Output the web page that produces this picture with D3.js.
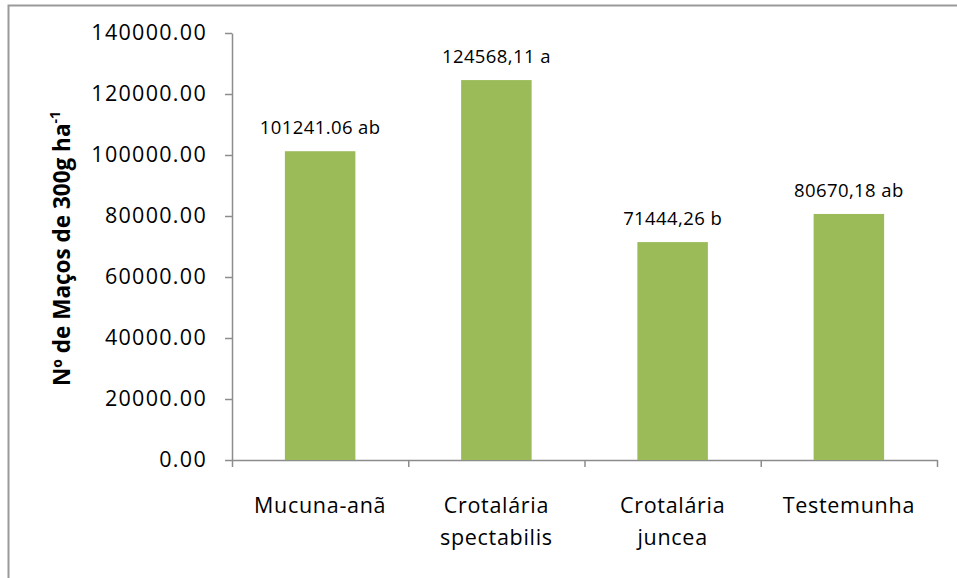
<!DOCTYPE html>
<html>
<head>
<meta charset="utf-8">
<script src="https://cdn.jsdelivr.net/npm/d3@7"></script>
<style>
  body { margin: 0; background: #fff; }
  svg text { font-family: "Open Sans", "Liberation Sans", sans-serif; fill: #000; }
</style>
</head>
<body>
<div id="graph"></div>
<script>
// bars: treatment, value, label shown above the bar
var categories = [["Mucuna-anã"], ["Crotalária", "spectabilis"], ["Crotalária", "juncea"], ["Testemunha"]];
var values = [101241.06, 124568.11, 71444.26, 80670.18];
var barLabels = ["101241.06 ab", "124568,11 a", "71444,26 b", "80670,18 ab"];
var yTicks = [0, 20000, 40000, 60000, 80000, 100000, 120000, 140000];

(function() {
	var W = 957, H = 578;
	var plot = { left: 232, right: 937, top: 33, bottom: 460 };

	var svg = d3.select("#graph").append("svg")
		.attr("width", W)
		.attr("height", H);

	// outer chart border (runs past the window on right and bottom)
	svg.append("rect")
		.attr("x", 8.5).attr("y", 5.5)
		.attr("width", 1000).attr("height", 1000)
		.attr("fill", "none")
		.attr("stroke", "#9a9a9a")
		.attr("stroke-width", 2);

	var idx = d3.range(values.length);
	var xScale = d3.scaleBand()
		.domain(idx)
		.range([plot.left, plot.right])
		.paddingInner(0.6)
		.paddingOuter(0.3);

	var yScale = d3.scaleLinear()
		.domain([0, 140000])
		.range([plot.bottom, plot.top]);

	// y axis
	var yAxis = d3.axisLeft(yScale)
		.tickValues(yTicks)
		.tickFormat(d3.format(".2f"))
		.tickSizeInner(7)
		.tickSizeOuter(0)
		.tickPadding(18);

	var gy = svg.append("g")
		.attr("transform", "translate(" + plot.left + ",0)")
		.call(yAxis);
	gy.select(".domain").attr("stroke", "#8c8c8c").attr("stroke-width", 1.5);
	gy.selectAll(".tick line").attr("stroke", "#8c8c8c").attr("stroke-width", 1.5);
	gy.selectAll(".tick text")
		.attr("font-size", 21.5)
		.attr("letter-spacing", 1.3)
		.attr("font-family", "Open Sans")
		.attr("fill", "#000");

	// x axis with ticks between categories
	var bounds = d3.range(values.length + 1);
	var xb = d3.scaleLinear().domain([0, values.length]).range([plot.left, plot.right]);
	var gx = svg.append("g")
		.attr("transform", "translate(0," + plot.bottom + ")")
		.call(d3.axisBottom(xb).tickValues(bounds).tickFormat("").tickSizeInner(7).tickSizeOuter(0));
	gx.select(".domain").attr("stroke", "#8c8c8c").attr("stroke-width", 1.5);
	gx.selectAll(".tick line").attr("stroke", "#8c8c8c").attr("stroke-width", 1.5);

	// category labels
	var cats = svg.append("g").selectAll("text")
		.data(categories)
		.enter().append("text")
		.attr("text-anchor", "middle")
		.attr("font-size", 21.5)
		.attr("letter-spacing", 0.7)
		.attr("transform", function(d, i) {
			return "translate(" + (xb(i + 0.5)) + "," + (plot.bottom + 53) + ")";
		});
	cats.selectAll("tspan")
		.data(function(d) { return d; })
		.enter().append("tspan")
		.attr("x", 0)
		.attr("dy", function(d, i) { return i === 0 ? 0 : 32; })
		.text(function(d) { return d; });

	// bars
	svg.append("g").selectAll("rect")
		.data(values)
		.enter().append("rect")
		.attr("x", function(d, i) { return xScale(i); })
		.attr("y", function(d) { return yScale(d); })
		.attr("width", xScale.bandwidth())
		.attr("height", function(d) { return yScale(0) - yScale(d); })
		.attr("fill", "#9bbb59");

	// value labels
	svg.append("g").selectAll("text")
		.data(values)
		.enter().append("text")
		.attr("text-anchor", "middle")
		.attr("font-size", 18.5)
		.attr("letter-spacing", 0.4)
		.attr("x", function(d, i) { return xScale(i) + xScale.bandwidth() / 2; })
		.attr("y", function(d) { return yScale(d) - 17; })
		.text(function(d, i) { return barLabels[i]; });

	// y title
	var yt = svg.append("text")
		.attr("transform", "translate(70," + ((plot.top + plot.bottom) / 2 + 2) + ") rotate(-90)")
		.attr("text-anchor", "middle")
		.attr("font-size", 22.5)
		.attr("font-weight", "bold");
	yt.append("tspan").text("Nº de Maços  de 300g ha");
	yt.append("tspan").attr("font-size", 14).attr("dy", -10).text("-1");
})();
</script>
</body>
</html>
